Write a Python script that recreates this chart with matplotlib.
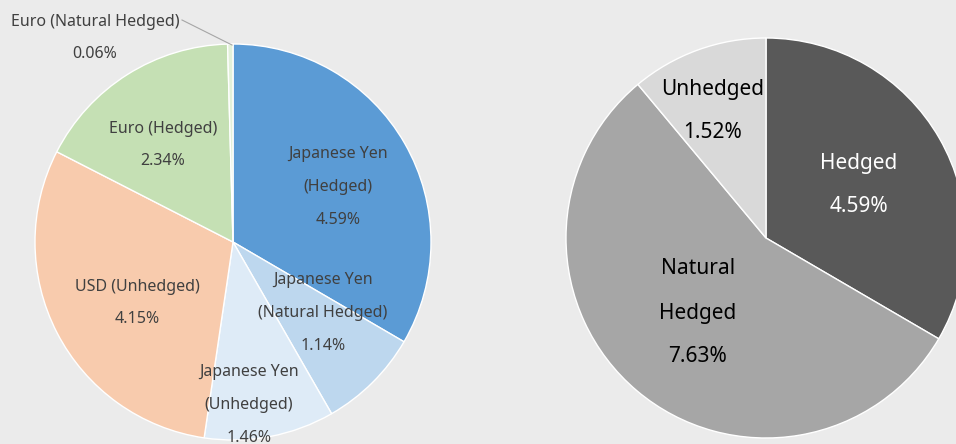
import matplotlib.pyplot as plt

# left pie: currency exposure by hedge type (%)
left_labels = ["Japanese Yen\n(Hedged)", "Japanese Yen\n(Natural Hedged)", "Japanese Yen\n(Unhedged)",
               "USD (Unhedged)", "Euro (Hedged)", "Euro (Natural Hedged)"]
left_values = [4.59, 1.14, 1.46, 4.15, 2.34, 0.06]
left_colors = ["#5b9bd5", "#bdd7ee", "#deebf7", "#f8cbad", "#c5e0b4", "#e2f0d9"]

# right pie: totals by hedge type (%)
right_labels = ["Hedged", "Natural\nHedged", "Unhedged"]
right_values = [4.59, 7.63, 1.52]
right_colors = ["#595959", "#a6a6a6", "#d9d9d9"]
right_text = ["white", "black", "black"]

W, H = 956, 444
bg = "#ebebeb"
plt.rcParams["font.family"] = ["Noto Sans", "DejaVu Sans"]

fig = plt.figure(figsize=(W / 100, H / 100), dpi=100, facecolor=bg)
ax = fig.add_axes([0, 0, 1, 1])
ax.set_facecolor(bg)

wp = dict(edgecolor="white", linewidth=1)
ax.pie(left_values, colors=left_colors, startangle=90, counterclock=False,
       center=(233, H - 242), radius=198, wedgeprops=wp, frame=True)
ax.pie(right_values, colors=right_colors, startangle=90, counterclock=False,
       center=(766, H - 238), radius=200, wedgeprops=wp, frame=True)

ax.set_xlim(0, W)
ax.set_ylim(0, H)
ax.set_aspect("equal")
ax.axis("off")


def lines(x, y, rows, size, color, step):
    for i, r in enumerate(rows):
        ax.text(x, H - (y + 2 + i * step), r, ha="center", va="center",
                fontsize=size, color=color)


# label positions (pixel coords from top)
left_pos = [(338, 152), (323, 278), (249, 370), (137, 285), (163, 127), (95, 20)]
for lab, v, (x, y) in zip(left_labels, left_values, left_pos):
    rows = lab.split("\n") + [f"{v:.2f}%"]
    lines(x, y, rows, 11.5, "#404040", 33 if len(rows) == 3 else 32)

# leader line for the tiny Euro slice
ax.plot([182, 232], [H - 20, H - 45], color="#a6a6a6", lw=0.8)

right_pos = [(859, 162), (698, 267), (713, 88)]
for lab, v, c, (x, y) in zip(right_labels, right_values, right_text, right_pos):
    rows = lab.split("\n") + [f"{v:.2f}%"]
    lines(x, y, rows, 15, c, 44 if len(rows) == 3 else 43)

fig.savefig("out.png", dpi=100, facecolor=bg)
